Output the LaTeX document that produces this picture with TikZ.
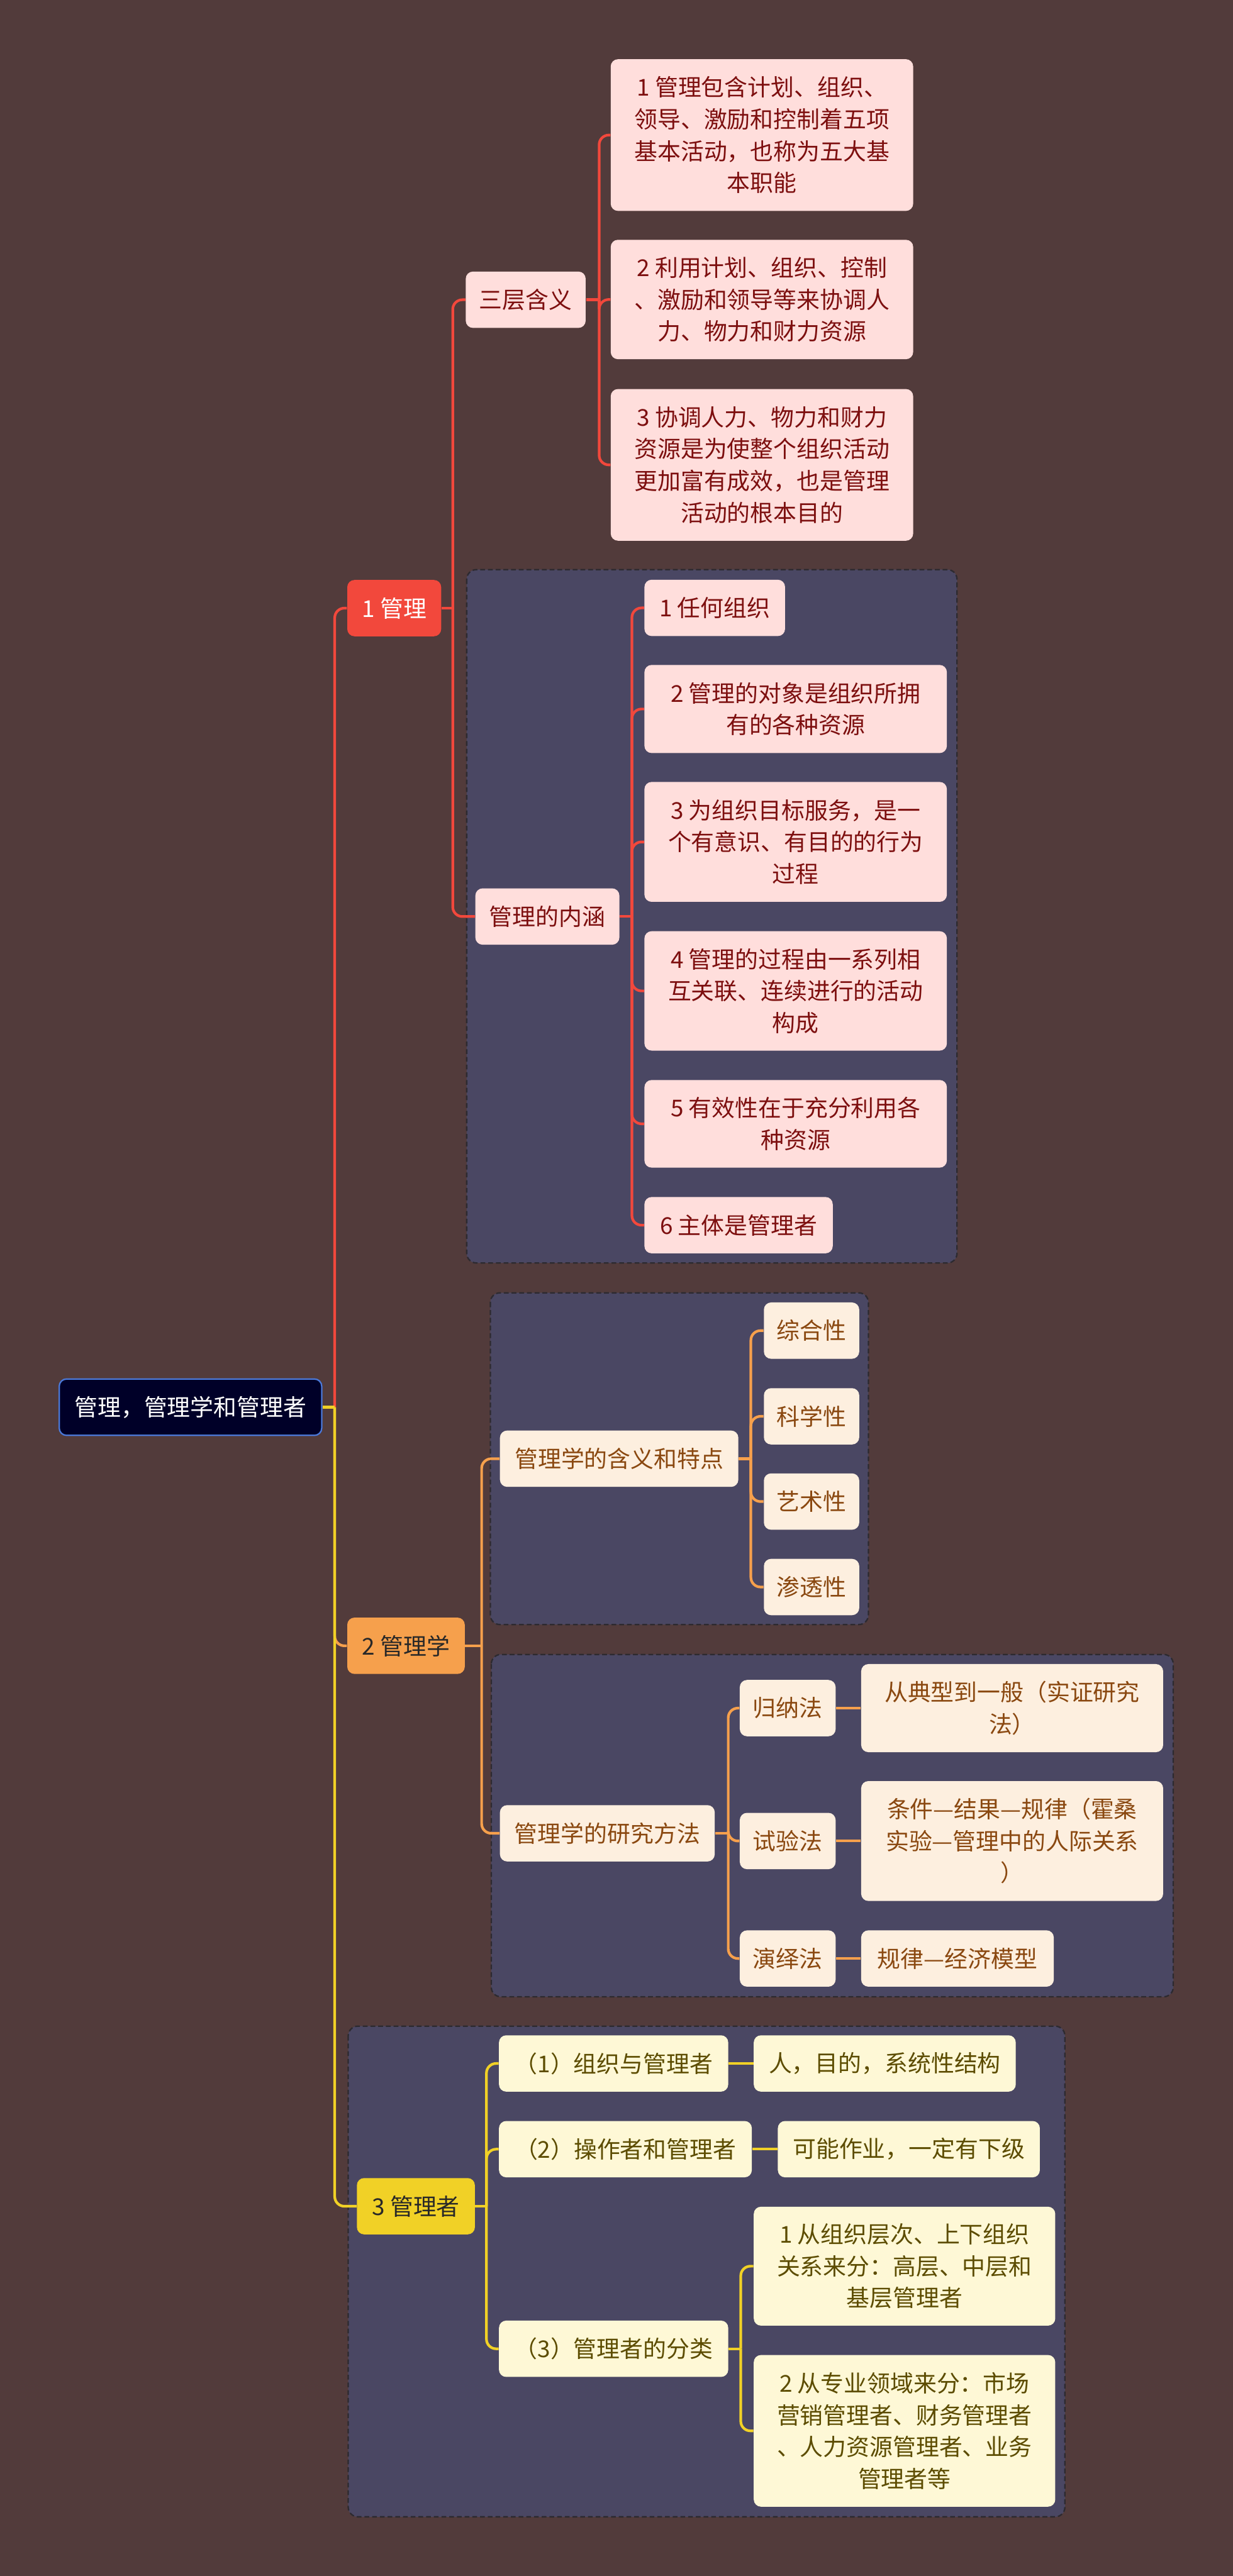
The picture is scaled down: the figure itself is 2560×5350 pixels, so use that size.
\documentclass[tikz,border=0pt]{standalone}
\usepackage{fontspec}
\setmainfont{Noto Sans CJK SC}
\definecolor{bgbrown}{RGB}{82,59,59}
\definecolor{grpfill}{RGB}{74,71,99}
\definecolor{grpline}{RGB}{45,42,48}
\definecolor{redbr}{RGB}{242,72,60}
\definecolor{pinkfill}{RGB}{255,222,220}
\definecolor{pinktext}{RGB}{125,15,15}
\definecolor{orangebr}{RGB}{246,160,76}
\definecolor{creamfill}{RGB}{253,239,223}
\definecolor{creamtext}{RGB}{138,72,16}
\definecolor{yellowbr}{RGB}{241,209,38}
\definecolor{ylwfill}{RGB}{254,248,214}
\definecolor{ylwtext}{RGB}{92,76,0}
\definecolor{rootfill}{RGB}{0,0,40}
\definecolor{rootline}{RGB}{74,120,216}
\definecolor{darktext}{RGB}{40,40,40}

\begin{document}
\begin{tikzpicture}[x=0.1mm,y=-0.1mm,font=\fontsize{13.7pt}{18.8pt}\selectfont,
  box/.style={rectangle,rounded corners=1.5mm,align=center,inner sep=0pt,minimum height=11.7mm},
  pinkbox/.style={box,fill=pinkfill,text=pinktext},
  creambox/.style={box,fill=creamfill,text=creamtext},
  ylwbox/.style={box,fill=ylwfill,text=ylwtext},
  grp/.style={draw=grpline,fill=grpfill,line width=0.3mm,dash pattern=on 1mm off 0.6mm,rounded corners=2mm},
  rl/.style={redbr,line width=0.55mm,rounded corners=2mm},
  ol/.style={orangebr,line width=0.55mm,rounded corners=2mm},
  yl/.style={yellowbr,line width=0.55mm,rounded corners=2mm}]
  \fill[bgbrown] (0,0) rectangle (2560,5350);
  \useasboundingbox (0,0) rectangle (2560,5350);
  % frames behind the branches
  \draw[grp] (969,1183) rectangle (1987,2623);
  \draw[grp] (1018,2685) rectangle (1803,3374);
  \draw[grp] (1020,3436) rectangle (2436,4147);
  \draw[grp] (723,4208) rectangle (2211,5227);

  \node[box,fill=rootfill,draw=rootline,line width=0.3mm,text=white,minimum width=54.5mm](root) at (395.5,2922.5){管理，管理学和管理者};

  % 1 管理
  \node[box,fill=redbr,text=white,minimum width=19.5mm](gl) at (818.5,1263){1 管理};
  \node[pinkbox,minimum width=24.9mm](sc) at (1091.5,622.5){三层含义};
  \node[pinkbox,minimum width=62.8mm,minimum height=31.5mm](sc1) at (1582,280.5){1 管理包含计划、组织、\\领导、激励和控制着五项\\基本活动，也称为五大基\\本职能};
  \node[pinkbox,minimum width=62.8mm,minimum height=24.8mm](sc2) at (1582,622){2 利用计划、组织、控制\\、激励和领导等来协调人\\力、物力和财力资源};
  \node[pinkbox,minimum width=62.8mm,minimum height=31.5mm](sc3) at (1582,965.5){3 协调人力、物力和财力\\资源是为使整个组织活动\\更加富有成效，也是管理\\活动的根本目的};
  \node[pinkbox,minimum width=29.9mm](nh) at (1136.5,1903.5){管理的内涵};
  \node[pinkbox,minimum width=29.2mm](nh1) at (1484,1262.5){1 任何组织};
  \node[pinkbox,minimum width=62.8mm,minimum height=18.3mm](nh2) at (1652,1472.5){2 管理的对象是组织所拥\\有的各种资源};
  \node[pinkbox,minimum width=62.8mm,minimum height=24.9mm](nh3) at (1652,1748.5){3 为组织目标服务，是一\\个有意识、有目的的行为\\过程};
  \node[pinkbox,minimum width=62.8mm,minimum height=24.8mm](nh4) at (1652,2058){4 管理的过程由一系列相\\互关联、连续进行的活动\\构成};
  \node[pinkbox,minimum width=62.8mm,minimum height=18.2mm](nh5) at (1652,2334){5 有效性在于充分利用各\\种资源};
  \node[pinkbox,minimum width=39.1mm](nh6) at (1533.5,2544.5){6 主体是管理者};

  % 2 管理学
  \node[box,fill=orangebr,text=darktext,minimum width=24.4mm](glx) at (843,3418){2 管理学};
  \node[creambox,minimum width=49.5mm](hy) at (1285.5,3029.5){管理学的含义和特点};
  \node[creambox,minimum width=19.8mm](hy1) at (1685,2763.5){综合性};
  \node[creambox,minimum width=19.8mm](hy2) at (1685,2941.5){科学性};
  \node[creambox,minimum width=19.8mm](hy3) at (1685,3118.5){艺术性};
  \node[creambox,minimum width=19.8mm](hy4) at (1685,3296){渗透性};
  \node[creambox,minimum width=44.6mm](ff) at (1261,3807.5){管理学的研究方法};
  \node[creambox,minimum width=19.9mm](ff1) at (1635.5,3547.5){归纳法};
  \node[creambox,minimum width=19.9mm](ff2) at (1635.5,3823.5){试验法};
  \node[creambox,minimum width=19.9mm](ff3) at (1635.5,4067.5){演绎法};
  \node[creambox,minimum width=62.7mm,minimum height=18.3mm](ff1a) at (2101.5,3547.5){从典型到一般（实证研究\\法）};
  \node[creambox,minimum width=62.7mm,minimum height=24.9mm](ff2a) at (2101.5,3823.5){条件—结果—规律（霍桑\\实验—管理中的人际关系\\）};
  \node[creambox,minimum width=40mm](ff3a) at (1988,4067.5){规律—经济模型};

  % 3 管理者
  \node[box,fill=yellowbr,text=darktext,minimum width=24.5mm](glz) at (863.5,4582){3 管理者};
  \node[ylwbox,minimum width=47.6mm](gz1) at (1274,4285.5){（1）组织与管理者};
  \node[ylwbox,minimum width=52.5mm](gz2) at (1298.5,4463.5){（2）操作者和管理者};
  \node[ylwbox,minimum width=47.6mm](gz3) at (1274,4878){（3）管理者的分类};
  \node[ylwbox,minimum width=54.4mm](gz1a) at (1837,4285.5){人，目的，系统性结构};
  \node[ylwbox,minimum width=54.4mm](gz2a) at (1887,4463.5){可能作业，一定有下级};
  \node[ylwbox,minimum width=62.6mm,minimum height=24.7mm](gz3a) at (1878,4706.5){1 从组织层次、上下组织\\关系来分：高层、中层和\\基层管理者};
  \node[ylwbox,minimum width=62.6mm,minimum height=31.5mm](gz3b) at (1878,5048.5){2 从专业领域来分：市场\\营销管理者、财务管理者\\、人力资源管理者、业务\\管理者等};

  % connectors
  \coordinate (trunk) at (695,2922.5);
  \coordinate (glb) at (940,1263);
  \coordinate (scb) at (1244,622.5);
  \coordinate (nhb) at (1312,1903.5);
  \coordinate (glxb) at (1000,3418);
  \coordinate (hyb) at (1559,3029.5);
  \coordinate (ffb) at (1512,3807.5);
  \coordinate (glzb) at (1010,4582);
  \coordinate (gz3c) at (1538,4878);

  \draw[rl](trunk)|-(gl.west);
  \draw[ol](trunk)|-(glx.west);
  \draw[yl](trunk)|-(glz.west);
  \draw[yl](root.east)--(trunk);

  \draw[rl](gl.east)--(glb);
  \foreach \c in {sc,nh} \draw[rl](glb)|-(\c.west);
  \draw[rl](sc.east)--(scb);
  \foreach \c in {sc1,sc2,sc3} \draw[rl](scb)|-(\c.west);
  \draw[rl](nh.east)--(nhb);
  \foreach \c in {nh1,nh2,nh3,nh4,nh5,nh6} \draw[rl](nhb)|-(\c.west);

  \draw[ol](glx.east)--(glxb);
  \foreach \c in {hy,ff} \draw[ol](glxb)|-(\c.west);
  \draw[ol](hy.east)--(hyb);
  \foreach \c in {hy1,hy2,hy3,hy4} \draw[ol](hyb)|-(\c.west);
  \draw[ol](ff.east)--(ffb);
  \foreach \c in {ff1,ff2,ff3} \draw[ol](ffb)|-(\c.west);
  \draw[ol](ff1)--(ff1a);\draw[ol](ff2)--(ff2a);\draw[ol](ff3)--(ff3a);

  \draw[yl](glz.east)--(glzb);
  \foreach \c in {gz1,gz2,gz3} \draw[yl](glzb)|-(\c.west);
  \draw[yl](gz1)--(gz1a);\draw[yl](gz2)--(gz2a);
  \draw[yl](gz3.east)--(gz3c);
  \foreach \c in {gz3a,gz3b} \draw[yl](gz3c)|-(\c.west);
\end{tikzpicture}
\end{document}
